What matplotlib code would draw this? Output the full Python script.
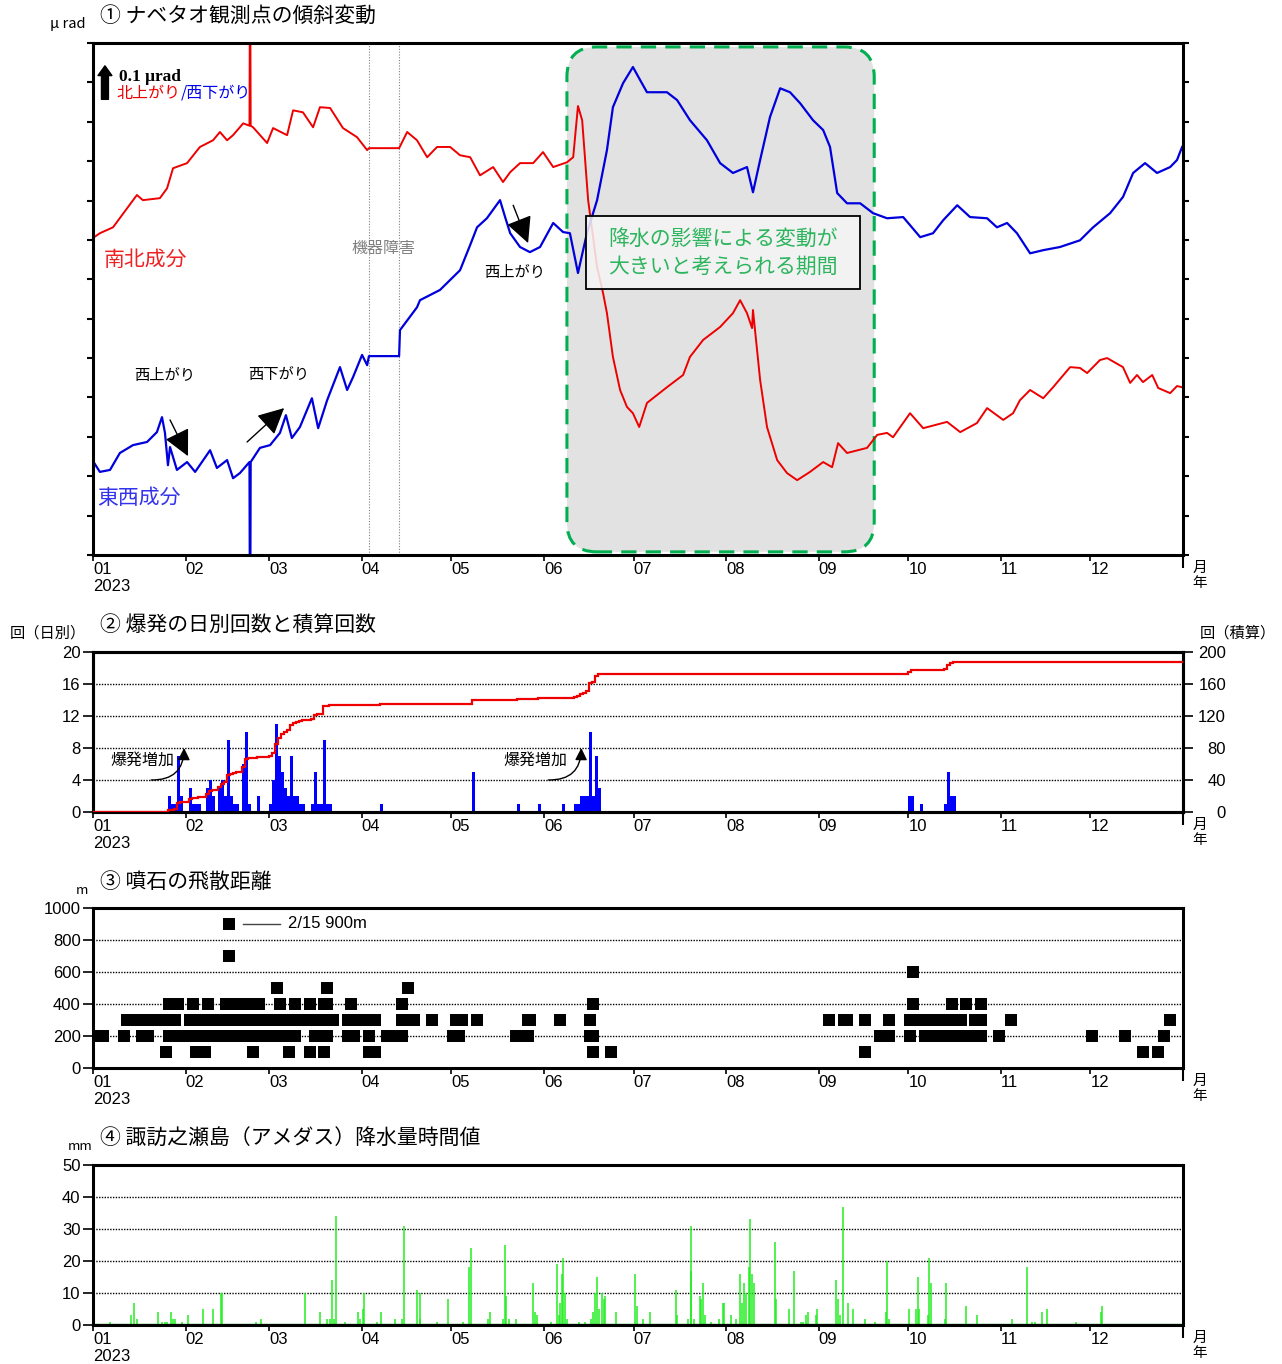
import numpy as np
import matplotlib
matplotlib.use('Agg')
import matplotlib.pyplot as plt
from matplotlib.patches import FancyBboxPatch, Rectangle

plt.rcParams['font.family'] = ['Noto Sans CJK JP', 'DejaVu Sans']
NARROW = ['Liberation Sans Narrow', 'Liberation Sans', 'DejaVu Sans']

# 月初の通日 (2023年)
month_start = [0, 31, 59, 90, 120, 151, 181, 212, 243, 273, 304, 334]
month_labels = ['01\n2023', '02', '03', '04', '05', '06', '07', '08', '09', '10', '11', '12']

# ① 傾斜 南北成分 (通日, μrad)
ns_pts = [(0, 0.805), (2.3, 0.817), (6.7, 0.832), (14.7, 0.914), (16.7, 0.901), (22.4, 0.906),
          (24.8, 0.931), (26.8, 0.982), (31.5, 0.995), (35.8, 1.036), (40.2, 1.053), (42.5, 1.074),
          (44.9, 1.053), (46.9, 1.066), (50.3, 1.096), (52.4, 1.09), (52.6, 1.60), (52.8, 1.09),
          (53.6, 1.086), (58.3, 1.046), (60.3, 1.084), (65.0, 1.066), (67.0, 1.129), (70.3, 1.124),
          (73.7, 1.086), (76.0, 1.137), (79.4, 1.135), (83.7, 1.084), (88.4, 1.061), (91.8, 1.028),
          (92.4, 1.033), (102.5, 1.033), (105.2, 1.074), (108.5, 1.053), (111.9, 1.010), (115.2, 1.036),
          (119.6, 1.036), (122.9, 1.015), (126.3, 1.010), (129.6, 0.964), (134.0, 0.985), (137.3, 0.947),
          (139.7, 0.972), (143.0, 0.995), (147.4, 0.995), (150.7, 1.023), (154.1, 0.985), (158.7, 0.997),
          (160.8, 1.010), (162.4, 1.140), (163.8, 1.104), (165.8, 0.901), (168.8, 0.731), (170.8, 0.665),
          (172.1, 0.614), (174.1, 0.503), (176.5, 0.419), (178.8, 0.376), (180.8, 0.360), (182.9, 0.325),
          (185.5, 0.386), (187.5, 0.398), (192.2, 0.426), (197.6, 0.457), (199.9, 0.503), (204.3, 0.546),
          (210.0, 0.579), (214.3, 0.614), (216.7, 0.647), (219.0, 0.614), (220.7, 0.576), (221.0, 0.622),
          (223.4, 0.444), (225.7, 0.325), (229.1, 0.241), (232.4, 0.208), (235.8, 0.190), (240.1, 0.211),
          (244.5, 0.236), (247.5, 0.223), (249.5, 0.284), (252.5, 0.259), (259.2, 0.272), (262.6, 0.305),
          (265.9, 0.310), (267.9, 0.299), (273.6, 0.360), (278.0, 0.322), (286.0, 0.338), (290.4, 0.312),
          (296.0, 0.335), (299.4, 0.373), (304.8, 0.343), (308.1, 0.360), (310.4, 0.393), (313.8, 0.419),
          (318.2, 0.398), (321.5, 0.426), (327.2, 0.477), (330.5, 0.475), (332.9, 0.462), (337.2, 0.495),
          (339.6, 0.500), (344.9, 0.477), (347.3, 0.437), (349.6, 0.457), (351.6, 0.439), (354.7, 0.457),
          (356.7, 0.424), (360.7, 0.411), (363.0, 0.429), (364.7, 0.426)]

# ① 傾斜 東西成分 (通日, μrad)
ew_pts = [(0.2, 0.236), (2.3, 0.211), (5.7, 0.216), (9.0, 0.259), (13.4, 0.279), (18.1, 0.287),
          (21.4, 0.312), (23.1, 0.350), (24.1, 0.310), (25.1, 0.228), (25.8, 0.274), (28.1, 0.216),
          (31.5, 0.236), (34.2, 0.211), (39.2, 0.266), (41.5, 0.221), (44.9, 0.241), (46.9, 0.195),
          (49.2, 0.208), (52.4, 0.236), (52.6, -0.30), (52.8, 0.236), (55.9, 0.272), (59.3, 0.279),
          (62.6, 0.310), (64.6, 0.355), (66.6, 0.297), (69.3, 0.325), (73.3, 0.398), (75.4, 0.322),
          (78.4, 0.393), (82.7, 0.477), (85.1, 0.419), (87.1, 0.452), (90.1, 0.508), (91.8, 0.482),
          (92.4, 0.505), (102.5, 0.505), (102.8, 0.571), (108.5, 0.629), (109.5, 0.647), (116.2, 0.673),
          (122.9, 0.723), (126.3, 0.787), (128.6, 0.832), (131.9, 0.855), (136.3, 0.901), (138.0, 0.858),
          (139.7, 0.817), (143.0, 0.782), (146.3, 0.769), (149.7, 0.782), (154.1, 0.843), (157.4, 0.820),
          (159.7, 0.817), (162.4, 0.716), (165.4, 0.817), (168.8, 0.901), (172.1, 1.028), (174.1, 1.137),
          (177.5, 1.198), (180.8, 1.239), (183.2, 1.206), (185.5, 1.175), (192.2, 1.175), (195.6, 1.155),
          (199.9, 1.104), (205.6, 1.053), (210.0, 0.995), (214.3, 0.970), (219.0, 0.985), (221.0, 0.921),
          (223.4, 1.003), (226.7, 1.112), (230.1, 1.185), (233.4, 1.175), (236.8, 1.147), (241.1, 1.104),
          (244.5, 1.079), (246.8, 1.036), (249.2, 0.919), (252.5, 0.893), (256.9, 0.893), (261.2, 0.868),
          (265.9, 0.855), (271.3, 0.858), (277.0, 0.807), (281.3, 0.817), (284.7, 0.850), (289.4, 0.888),
          (293.7, 0.858), (299.4, 0.855), (302.7, 0.832), (306.1, 0.843), (309.4, 0.817), (313.8, 0.766),
          (318.2, 0.774), (323.8, 0.782), (330.5, 0.799), (334.9, 0.832), (340.6, 0.868), (344.9, 0.909),
          (348.3, 0.970), (352.3, 0.995), (356.3, 0.970), (360.7, 0.985), (363.0, 1.003), (364.7, 1.036)]

# ② 爆発の日別回数 (通日, 回)
expl_day = [25, 26, 27, 28, 29, 32, 33, 34, 35, 38, 39, 40, 42, 43, 44, 45, 46, 47, 48, 50, 51, 52, 55, 59,
            60, 61, 62, 63, 64, 65, 66, 67, 68, 69, 70, 73, 74, 75, 76, 77, 78, 79,
            96, 127, 142, 149, 157, 161, 162, 163, 164, 165, 166, 167, 168, 169,
            273, 274, 277, 285, 286, 287, 288]
expl_count = [2, 1, 1, 7, 2, 3, 1, 1, 1, 3, 4, 2, 3, 4, 2, 9, 2, 1, 1, 6, 10, 1, 2, 1,
              4, 11, 7, 5, 3, 2, 7, 2, 2, 1, 1, 1, 5, 1, 1, 9, 1, 1,
              1, 5, 1, 1, 1, 1, 1, 2, 2, 2, 10, 2, 7, 3,
              2, 2, 1, 1, 5, 2, 2]

# ③ 噴石の飛散距離 (m) : 観測された日の範囲 (開始日, 終了日)
rock_runs = {
    100: [(24, 24), (34, 37), (53, 53), (65, 65), (72, 72), (77, 77), (92, 94), (167, 167), (173, 173),
          (258, 258), (351, 351), (356, 356)],
    200: [(2, 3), (10, 10), (16, 18), (25, 67), (74, 78), (85, 87), (92, 92), (98, 99), (103, 103),
          (120, 122), (141, 145), (166, 167), (263, 266), (273, 273), (278, 297), (303, 303),
          (334, 334), (345, 345), (358, 358)],
    300: [(11, 12), (16, 27), (32, 54), (58, 80), (85, 87), (91, 94), (103, 107), (113, 113),
          (121, 123), (128, 128), (145, 146), (156, 156), (166, 166), (246, 246), (251, 252),
          (258, 258), (266, 266), (273, 290), (295, 297), (307, 307), (360, 360)],
    400: [(25, 28), (33, 33), (38, 38), (44, 55), (62, 62), (67, 67), (72, 72), (77, 78), (86, 86),
          (103, 103), (167, 167), (274, 274), (287, 287), (292, 292), (297, 297)],
    500: [(61, 61), (78, 78), (105, 105)],
    600: [(274, 274)],
    700: [(45, 45)],
    900: [(45, 45)],
}

# ④ 諏訪之瀬島 降水量時間値 (通日, mm)
rain_pts = [(5.8, 1), (12.8, 3), (13.6, 7), (14.9, 2), (21.9, 4), (23.2, 1), (24.0, 1), (24.9, 1),
            (26.0, 4), (26.9, 2), (27.6, 2), (29.7, 1), (31.9, 3), (36.9, 5), (40.2, 5), (42.7, 10),
            (43.3, 10), (54.7, 1), (56.4, 2), (71.1, 10), (76.0, 4), (78.2, 2), (79.3, 2), (79.9, 14),
            (80.7, 2), (81.3, 34), (84.4, 1), (88.6, 4), (89.4, 2), (90.5, 5), (90.9, 10), (95.2, 1),
            (96.3, 4), (101.2, 2), (103.5, 2), (104.3, 31), (108.6, 11), (109.4, 10), (109.6, 2),
            (115.1, 1), (119.0, 8), (124.0, 1), (126.0, 18), (126.7, 24), (132.2, 2), (132.9, 4),
            (137.3, 2), (137.8, 25), (138.4, 9), (139.2, 2), (141.8, 2), (147.3, 13), (147.9, 4),
            (148.7, 3), (153.4, 1), (155.5, 19), (155.9, 3), (156.4, 7), (157.0, 16), (157.5, 21),
            (158.0, 10), (158.8, 2), (162.7, 1), (164.6, 1), (166.8, 2), (167.3, 4), (168.2, 10),
            (168.7, 15), (169.3, 5), (170.3, 10), (171.0, 8), (171.6, 9), (175.0, 4), (181.6, 16),
            (182.1, 6), (184.3, 2), (186.6, 4), (195.1, 11), (195.5, 3), (199.3, 2), (200.1, 31),
            (200.4, 17), (201.2, 2), (203.1, 9), (203.7, 8), (204.4, 13), (205.1, 3), (207.1, 1),
            (209.6, 2), (210.8, 7), (211.4, 7), (213.5, 3), (215.3, 2), (216.8, 16), (217.4, 7),
            (218.0, 13), (218.7, 10), (219.6, 18), (220.1, 33), (220.6, 16), (221.2, 13), (228.3, 26),
            (228.7, 8), (232.9, 5), (234.9, 17), (237.2, 1), (237.9, 1), (238.9, 3), (239.5, 4),
            (242.0, 3), (242.4, 5), (248.8, 14), (249.4, 8), (250.2, 3), (251.3, 37), (252.9, 7),
            (254.6, 5), (258.4, 2), (261.8, 1), (265.6, 4), (266.0, 20), (266.6, 2), (273.3, 5),
            (275.6, 5), (276.2, 15), (276.6, 5), (279.7, 3), (280.1, 21), (280.6, 13), (285.3, 2),
            (285.7, 13), (292.3, 6), (295.9, 3), (307.6, 2), (312.9, 18), (314.4, 1), (315.5, 1),
            (317.8, 4), (319.5, 5), (329.2, 1), (337.4, 4), (337.8, 6)]

W, H = 1282, 1364
fig = plt.figure(figsize=(W / 100, H / 100), dpi=100)


def fx(x):
    return x / W


def fy(y):
    return 1 - y / H


def make_axes(top, bottom):
    return fig.add_axes([fx(93), fy(bottom), fx(1183) - fx(93), fy(top) - fy(bottom)])


def style_x(ax):
    for s in ax.spines.values():
        s.set_linewidth(2.2)
    ax.set_xlim(0, 365)
    ax.set_xticks(month_start)
    ax.set_xticklabels(month_labels, fontfamily=NARROW, fontsize=12)
    for lab in ax.get_xticklabels():
        lab.set_horizontalalignment('left')
    ax.set_xticks([365], minor=True)
    ax.tick_params(axis='x', which='major', length=4, width=1.2, pad=1)
    ax.tick_params(axis='x', which='minor', length=9, width=1.5)
    ax.annotate('月\n年', xy=(1, 0), xycoords='axes fraction', xytext=(7, -4),
                textcoords='offset points', ha='left', va='top', fontsize=10.5, linespacing=1.15)


def style_y(ax, ticks):
    ax.set_yticks(ticks)
    ax.set_yticklabels([str(t) for t in ticks], fontfamily=NARROW, fontsize=12)
    ax.tick_params(axis='y', length=7, width=1.2, pad=2)
    for t in ticks[1:-1]:
        ax.axhline(t, color='black', lw=1, ls=(0, (1, 1)), zorder=1)


# ---------- ① 傾斜変動 ----------
ax1 = make_axes(43, 555)
style_x(ax1)
ax1.set_ylim(0, 1.3)
ax1.set_yticks(np.arange(0, 1.31, 0.1))
ax1.set_yticklabels([])
ax1.tick_params(axis='y', left=True, right=True, length=4, width=1.5)

# 降水の影響期間
aspect = (1.3 / 512) / (365 / 1090)
period = FancyBboxPatch((158.7, 0.008), 261.6 - 158.7, 1.282,
                        boxstyle='round,pad=0,rounding_size=10', mutation_aspect=aspect,
                        facecolor='#e2e2e2', edgecolor='#00b050', lw=2.2,
                        linestyle=(0, (5, 3)), zorder=0.5)
ax1.add_patch(period)

for d in (92.4, 102.5):
    ax1.axvline(d, color='gray', lw=0.8, ls=(0, (1, 1.5)), zorder=1)

ns_day, ns_val = zip(*ns_pts)
ew_day, ew_val = zip(*ew_pts)
ax1.plot(ns_day, ns_val, color='#ee0000', lw=1.4, zorder=2)
ax1.plot(ew_day, ew_val, color='#0000dd', lw=1.6, zorder=2)

ax1.add_patch(Rectangle((165, 0.675), 92, 0.185, facecolor=(0.965, 0.965, 0.965, 0.85),
                        edgecolor='black', lw=1.3, zorder=4))
ax1.text(211, 0.802, '降水の影響による変動が', color='#2db55d', fontsize=15,
         ha='center', va='center', zorder=5)
ax1.text(211, 0.731, '大きいと考えられる期間', color='#2db55d', fontsize=15,
         ha='center', va='center', zorder=5)

ax1.text(97.1, 0.779, '機器障害', color='#808080', fontsize=11.5, ha='center', va='center')
ax1.text(3.7, 0.749, '南北成分', color='#ee2222', fontsize=15, ha='left', va='center')
ax1.text(1.3, 0.145, '東西成分', color='#3333ee', fontsize=15, ha='left', va='center')

ax1.text(24.1, 0.457, '西上がり', fontsize=11, ha='center', va='center')
ax1.text(62.0, 0.459, '西下がり', fontsize=11, ha='center', va='center')
ax1.text(141.3, 0.718, '西上がり', fontsize=11, ha='center', va='center')
arrow = dict(arrowstyle='-|>,head_length=0.9,head_width=0.45', color='black', lw=1,
             mutation_scale=18, shrinkA=0, shrinkB=0)
ax1.annotate('', xy=(31.8, 0.251), xytext=(25.8, 0.343), arrowprops=arrow)
ax1.annotate('', xy=(64.0, 0.373), xytext=(51.6, 0.287), arrowprops=arrow)
ax1.annotate('', xy=(145.7, 0.792), xytext=(140.7, 0.888), arrowprops=arrow)

# スケール
ax1.annotate('', xy=(4.0, 1.242), xytext=(4.0, 1.157),
             arrowprops=dict(arrowstyle='simple,head_length=0.7,head_width=1.0,tail_width=0.5',
                             color='black', mutation_scale=10, shrinkA=0, shrinkB=0))
ax1.text(8.7, 1.213, '0.1 μrad', fontsize=12.5, fontweight='bold',
         fontfamily=['Liberation Serif', 'DejaVu Serif'], ha='left', va='center')
ax1.text(8.0, 1.173, '北上がり', color='#ee0000', fontsize=11.5, ha='left', va='center')
ax1.text(29.5, 1.173, '/西下がり', color='#0000ee', fontsize=11.5, ha='left', va='center')

fig.text(fx(50), fy(24), 'μ rad', fontsize=10.5, ha='left', va='center')
fig.text(fx(100), fy(16), '① ナベタオ観測点の傾斜変動', fontsize=15, ha='left', va='center')

# ---------- ② 爆発回数 ----------
ax2 = make_axes(652, 812)
style_x(ax2)
ax2.set_ylim(0, 20)
style_y(ax2, [0, 4, 8, 12, 16, 20])
ax2.bar(expl_day, expl_count, width=1, align='edge', color='#0000ff', zorder=2)

daily = np.zeros(365)
daily[expl_day] = expl_count
ax2b = ax2.twinx()
ax2b.set_ylim(0, 200)
ax2b.stairs(np.cumsum(daily), np.arange(366), baseline=None, color='#ee0000', lw=1.6, zorder=3)
ax2b.set_yticks([0, 40, 80, 120, 160, 200])
ax2b.set_yticklabels(['0', '40', '80', '120', '160', '200'], fontfamily=NARROW, fontsize=12)
ax2b.tick_params(axis='y', length=7, width=1.2, pad=24)
for lab in ax2b.get_yticklabels():
    lab.set_horizontalalignment('right')
for s in ax2b.spines.values():
    s.set_linewidth(2.2)

curve = dict(arrowstyle='-|>,head_length=0.6,head_width=0.3', color='black', lw=1,
             mutation_scale=12, connectionstyle='arc3,rad=0.5', shrinkA=0, shrinkB=0)
ax2.text(5.7, 6.5, '爆発増加', fontsize=11.5, ha='left', va='center')
ax2.annotate('', xy=(30.5, 8.0), xytext=(19.5, 4.0), arrowprops=curve)
ax2.text(137.5, 6.5, '爆発増加', fontsize=11.5, ha='left', va='center')
ax2.annotate('', xy=(163.5, 8.0), xytext=(152.5, 4.0), arrowprops=curve)

fig.text(fx(10), fy(633), '回（日別）', fontsize=11, ha='left', va='center')
fig.text(fx(1200), fy(633), '回（積算）', fontsize=11, ha='left', va='center')
fig.text(fx(100), fy(625), '② 爆発の日別回数と積算回数', fontsize=15, ha='left', va='center')

# ---------- ③ 噴石 ----------
ax3 = make_axes(908, 1068)
style_x(ax3)
ax3.set_ylim(0, 1000)
style_y(ax3, [0, 200, 400, 600, 800, 1000])
for level, runs in rock_runs.items():
    days = [d for a, b in runs for d in range(a, b + 1)]
    ax3.plot(np.array(days) + 0.5, [level] * len(days), 's', color='black', ms=8.6,
             markeredgewidth=0, linestyle='none', zorder=3)
ax3.plot([50.2, 62.6], [900, 900], color='#444444', lw=1)
ax3.text(65.3, 900, '2/15 900m', fontfamily=NARROW, fontsize=12, ha='left', va='center')
fig.text(fx(82), fy(890), 'm', fontsize=9.5, ha='center', va='center')
fig.text(fx(100), fy(882), '③ 噴石の飛散距離', fontsize=15, ha='left', va='center')

# ---------- ④ 降水量 ----------
ax4 = make_axes(1165, 1325)
style_x(ax4)
ax4.set_ylim(0, 50)
style_y(ax4, [0, 10, 20, 30, 40, 50])
rain_day, rain_mm = zip(*rain_pts)
ax4.vlines(rain_day, 0, rain_mm, color='#22ee22', lw=1.1, zorder=2)
ax4.axhline(0.3, color='#119911', lw=1, zorder=2)
fig.text(fx(80), fy(1146), 'mm', fontsize=9.5, ha='center', va='center')
fig.text(fx(100), fy(1138), '④ 諏訪之瀬島（アメダス）降水量時間値', fontsize=15, ha='left', va='center')

fig.savefig('out.png', dpi=100)
